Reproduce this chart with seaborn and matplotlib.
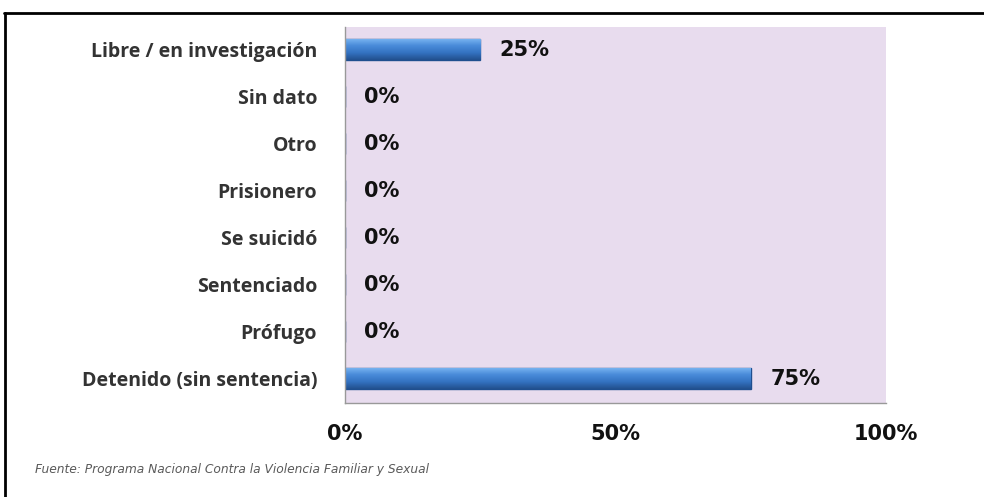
import matplotlib
matplotlib.use("Agg")
import matplotlib.pyplot as plt
import seaborn as sns
import pandas as pd
import numpy as np
from matplotlib.lines import Line2D
from matplotlib.colors import LinearSegmentedColormap

# datos
categorias = ["Libre / en investigación", "Sin dato", "Otro", "Prisionero",
              "Se suicidó", "Sentenciado", "Prófugo", "Detenido (sin sentencia)"]
porcentajes = [25, 0, 0, 0, 0, 0, 0, 75]
ticks_x = [0, 50, 100]
etiquetas_x = ["0%", "50%", "100%"]
fuente = "Fuente: Programa Nacional Contra la Violencia Familiar y Sexual"

df = pd.DataFrame({"estado": categorias, "pct": porcentajes})

sns.set_style("white")
plt.rcParams["font.family"] = ["DejaVu Sans"]

fig = plt.figure(figsize=(9.84, 4.97), dpi=100)
ax = fig.add_axes([345 / 984, 1 - 403 / 497, (886 - 345) / 984, (403 - 27) / 497])
ax.set_facecolor("#E8DCEE")

sns.barplot(data=df, x="pct", y="estado", orient="h", order=categorias,
            color="#3C7BC9", edgecolor="#1F4F8F", linewidth=1.0,
            width=0.45, saturation=1, ax=ax)

ax.set_xlim(0, 100)
ax.set_ylim(7.52, -0.48)

# degradado tipo "3D" sobre las barras
cmap = LinearSegmentedColormap.from_list("azul", ["#7DB8F2", "#4A8CDA", "#3473C2", "#22508E"])
grad = np.linspace(0, 1, 64).reshape(-1, 1)
for p in ax.patches:
    w = p.get_width()
    if w <= 0:
        continue
    x0, y0, h = p.get_x(), p.get_y(), p.get_height()
    im = ax.imshow(grad, cmap=cmap, aspect="auto", origin="upper",
                   extent=[x0, x0 + w, y0 + h, y0], zorder=p.get_zorder() + 0.1)
    im.set_clip_path(p)
ax.set_xlim(0, 100)
ax.set_ylim(7.52, -0.48)

# etiquetas de valor
for i, v in enumerate(porcentajes):
    ax.text(v + 3.6, i, f"{v}%", va="center", ha="left",
            fontsize=15, fontweight="heavy", color="#111111")

ax.set_xticks(ticks_x)
ax.set_xticklabels(etiquetas_x, fontsize=15, fontweight="heavy", color="#111111")
ax.tick_params(axis="x", length=6, width=1, color="#999999", pad=9, direction="out")
ax.tick_params(axis="y", length=0, pad=20)
for lbl in ax.get_yticklabels():
    lbl.set_fontfamily(["Open Sans", "DejaVu Sans"])
    lbl.set_fontweight("bold")
    lbl.set_fontsize(14)
    lbl.set_color("#333333")
ax.set_xlabel("")
ax.set_ylabel("")

for s in ["top", "right"]:
    ax.spines[s].set_visible(False)
for s in ["left", "bottom"]:
    ax.spines[s].set_color("#999999")
    ax.spines[s].set_linewidth(1.0)

# nota de fuente
fig.text(35 / 984, 1 - 470 / 497, fuente, fontsize=8.8, style="italic",
         color="#5A5A5A", va="center", ha="left")

# marco
fig.add_artist(Line2D([4 / 984, 1], [1 - 12.5 / 497, 1 - 12.5 / 497],
                      transform=fig.transFigure, color="black", linewidth=2))
fig.add_artist(Line2D([4.5 / 984, 4.5 / 984], [0, 1 - 12.5 / 497],
                      transform=fig.transFigure, color="black", linewidth=2))

fig.savefig("out.png", dpi=100)
